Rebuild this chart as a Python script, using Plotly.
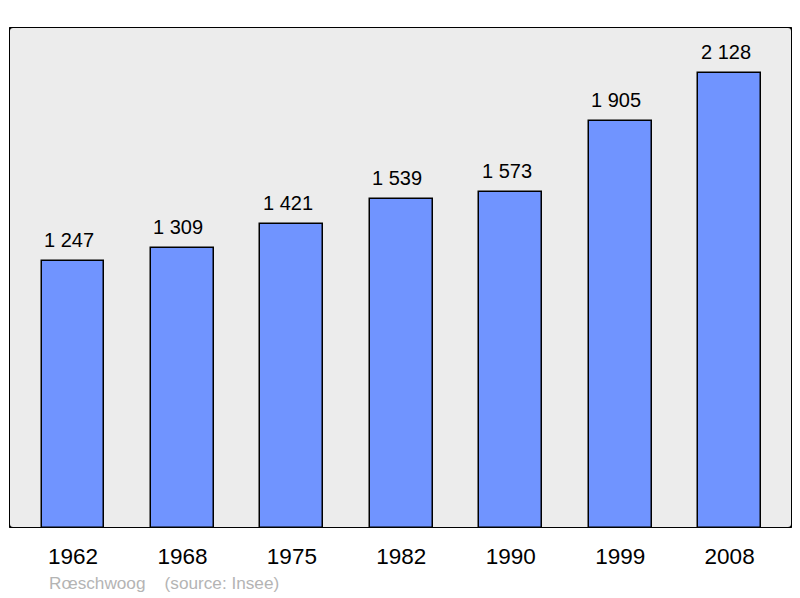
import plotly.graph_objects as go

years = ["1962", "1968", "1975", "1982", "1990", "1999", "2008"]
population = [1247, 1309, 1421, 1539, 1573, 1905, 2128]
source_text = "Rœschwoog    (source: Insee)"

def fmt(v):
    return f"{v:,}".replace(",", " ")

xs = list(range(len(years)))
x0, x1 = -0.585, 6.57
y0, y1 = 0, 2343

fig = go.Figure()
fig.add_trace(go.Bar(
    x=xs, y=population, width=0.575,
    marker=dict(color="#7094ff", line=dict(color="black", width=1.5)),
    hoverinfo="skip",
))

for x, v in zip(xs, population):
    fig.add_annotation(x=x, y=v, text=fmt(v), showarrow=False, yanchor="bottom",
                       yshift=8, xshift=-4, font=dict(size=20, color="black",
                                            family="Liberation Sans, Arial, sans-serif"))

fig.add_annotation(xref="paper", yref="paper", x=0.048, y=0, xanchor="left", yanchor="middle",
                   yshift=-55, text=source_text.replace("    ", "&nbsp;&nbsp;&nbsp;&nbsp;"),
                   showarrow=False,
                   font=dict(size=17.2, color="#b4b4b4", family="Liberation Sans, Arial, sans-serif"))

# rounded border in data coordinates
rx = (x1 - x0) * 4 / 783
ry = (y1 - y0) * 4 / 501
path = (f"M {x0+rx},{y0} L {x1-rx},{y0} Q {x1},{y0} {x1},{y0+ry} L {x1},{y1-ry} "
        f"Q {x1},{y1} {x1-rx},{y1} L {x0+rx},{y1} Q {x0},{y1} {x0},{y1-ry} "
        f"L {x0},{y0+ry} Q {x0},{y0} {x0+rx},{y0} Z")
fig.add_shape(type="path", path=path, xref="x", yref="y",
              line=dict(color="black", width=2), layer="above")

fig.update_layout(
    width=800, height=598,
    margin=dict(l=1, r=16, t=19, b=78, autoexpand=False),
    paper_bgcolor="white", plot_bgcolor="#ececec",
    showlegend=False, bargap=0,
    font=dict(family="Liberation Sans, Arial, sans-serif"),
    xaxis=dict(range=[x0, x1], tickvals=xs, ticktext=years, showgrid=False,
               zeroline=False, showline=False, ticks="", ticklabelstandoff=12,
               tickfont=dict(size=22.5, color="black"), fixedrange=True),
    yaxis=dict(range=[y0, y1], showgrid=False, zeroline=False, showticklabels=False,
               showline=False, ticks="", fixedrange=True),
)

fig.write_html("out.html")
